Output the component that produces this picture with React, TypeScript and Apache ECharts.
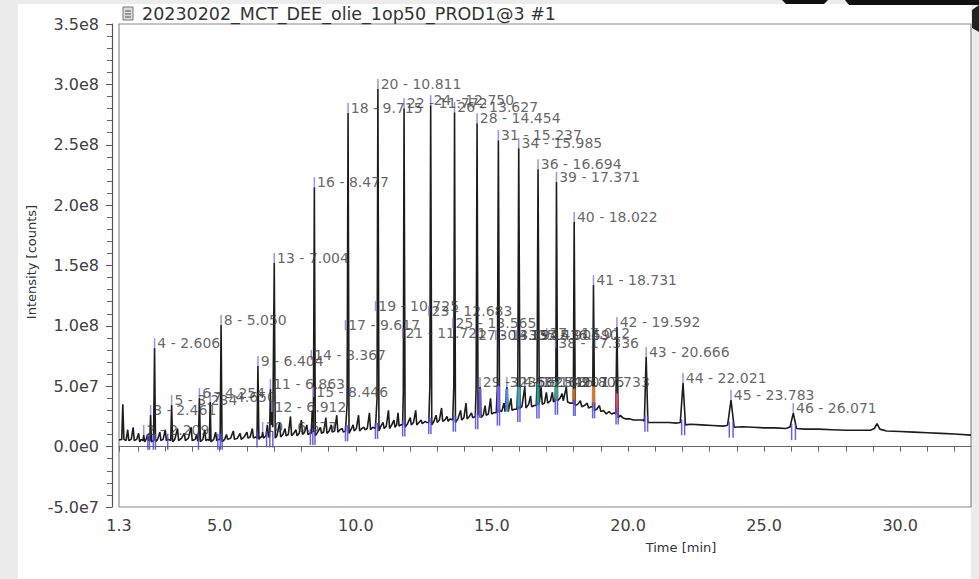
import React, { useEffect, useRef } from "react";
import * as echarts from "echarts";

const titleText = "20230202_MCT_DEE_olie_1op50_PROD1@3 #1";
const xAxisTitle = "Time [min]";
const yAxisTitle = "Intensity [counts]";

// x axis (minutes)
const xMin = 1.3;
const xMax = 32.6;
const xLabelValues = [1.3, 5, 10, 15, 20, 25, 30];
const xTickValues = [1.3, 2, 3, 4, 5, 6, 7, 8, 9, 10, 11, 12, 13, 14, 15, 16, 17, 18, 19, 20, 21, 22, 23, 24, 25, 26, 27, 28, 29, 30, 31, 32];

// y axis (values in millions of counts)
const yTickValues = [-50, 0, 50, 100, 150, 200, 250, 300, 350];
const yTickLabels = ["-5.0e7", "0.0e0", "5.0e7", "1.0e8", "1.5e8", "2.0e8", "2.5e8", "3.0e8", "3.5e8"];

// chromatogram trace: [time (min), intensity (1e6 counts)]
const trace: [number, number][] = [
  [1.30, 5.5], [1.40, 6], [1.44, 35], [1.48, 6], [1.56, 5], [1.62, 14], [1.66, 5], [1.75, 6], [1.82, 16], [1.86, 5], [1.95, 6], [2.02, 11], [2.06, 4], [2.12, 6],
  [2.18, 5], [2.209, 9.6], [2.24, 4], [2.30, 6], [2.35, 10], [2.39, 5],
  [2.43, 5], [2.461, 26.2], [2.49, 4],
  [2.57, 5], [2.606, 81.6], [2.64, 4],
  [2.72, 6], [2.80, 12], [2.84, 5], [2.92, 6], [3.00, 14], [3.04, 5], [3.10, 6],
  [3.20, 5], [3.234, 34.4], [3.27, 4],
  [3.35, 6], [3.45, 15], [3.49, 5], [3.60, 7], [3.70, 11], [3.74, 5], [3.85, 7], [3.95, 16], [3.99, 5], [4.10, 6], [4.15, 10], [4.19, 5],
  [4.22, 5], [4.254, 40.2], [4.29, 4],
  [4.38, 6], [4.45, 14], [4.49, 5], [4.56, 6],
  [4.62, 5], [4.650, 36.9], [4.68, 4],
  [4.78, 6], [4.85, 12], [4.89, 5], [4.96, 6],
  [5.015, 6], [5.050, 100.7], [5.085, 4],
  [5.18, 6], [5.25, 10], [5.29, 6], [5.40, 7], [5.50, 13], [5.54, 6], [5.65, 7], [5.75, 11], [5.79, 6], [5.90, 8], [6.00, 12], [6.04, 7], [6.12, 8], [6.20, 15], [6.24, 7], [6.32, 8],
  [6.37, 7], [6.404, 66.7], [6.44, 6],
  [6.50, 8], [6.55, 8], [6.577, 12.1], [6.61, 7], [6.70, 9], [6.75, 18], [6.79, 8],
  [6.83, 8], [6.863, 47.7], [6.89, 18], [6.912, 28.6], [6.95, 16], [7.004, 152], [7.04, 7],
  [7.10, 9], [7.20, 20], [7.24, 8], [7.32, 10], [7.40, 15], [7.44, 9], [7.52, 10], [7.60, 25], [7.64, 9], [7.72, 11], [7.80, 14], [7.84, 9], [7.92, 11], [8.00, 22], [8.04, 10], [8.12, 12], [8.20, 18], [8.24, 10], [8.30, 11],
  [8.36, 11], [8.40, 30], [8.44, 12], [8.477, 214.9], [8.51, 9],
  [8.60, 12], [8.70, 16], [8.74, 11], [8.82, 12], [8.90, 24], [8.94, 11], [9.02, 13], [9.10, 18], [9.14, 12], [9.22, 13], [9.30, 26], [9.34, 12], [9.42, 14], [9.50, 15], [9.54, 12],
  [9.62, 13], [9.68, 35], [9.715, 276.2], [9.75, 11],
  [9.82, 14], [9.90, 18], [9.94, 13], [10.02, 15], [10.10, 26], [10.14, 13], [10.22, 15], [10.30, 16], [10.34, 14], [10.42, 15], [10.50, 28], [10.54, 14], [10.62, 16],
  [10.72, 15], [10.78, 40], [10.811, 296.1], [10.85, 13],
  [10.92, 17], [11.00, 20], [11.04, 15], [11.12, 17], [11.20, 30], [11.24, 15], [11.32, 18], [11.40, 22], [11.44, 16], [11.50, 18], [11.55, 28], [11.59, 17], [11.65, 18],
  [11.72, 18], [11.745, 45], [11.772, 280.3], [11.81, 16],
  [11.90, 19], [12.00, 24], [12.04, 18], [12.12, 20], [12.20, 30], [12.24, 18], [12.32, 20], [12.40, 22], [12.44, 19], [12.55, 21], [12.60, 20],
  [12.68, 20], [12.72, 50], [12.750, 282.8], [12.79, 18],
  [12.87, 21], [12.95, 26], [12.99, 20], [13.07, 22], [13.15, 32], [13.19, 21], [13.27, 22], [13.35, 25], [13.39, 21], [13.47, 23],
  [13.56, 22], [13.60, 50], [13.627, 277], [13.66, 20],
  [13.75, 23], [13.85, 30], [13.89, 22], [13.97, 24], [14.05, 36], [14.09, 23], [14.17, 25], [14.25, 28], [14.29, 24],
  [14.39, 25], [14.42, 50], [14.454, 267.9], [14.49, 26], [14.562, 49.3], [14.60, 24],
  [14.68, 26], [14.75, 34], [14.79, 26], [14.87, 27], [14.95, 40], [14.99, 27], [15.06, 28],
  [15.16, 28], [15.20, 50], [15.237, 253.8], [15.28, 30],
  [15.36, 29], [15.44, 36], [15.48, 29], [15.549, 49.3], [15.60, 29], [15.70, 40], [15.74, 30], [15.82, 31],
  [15.92, 31], [15.95, 50], [15.985, 247.2], [16.03, 32],
  [16.10, 33], [16.207, 49.3], [16.25, 32], [16.35, 35], [16.42, 42], [16.46, 33], [16.55, 34],
  [16.63, 34], [16.66, 55], [16.694, 229.8], [16.74, 36], [16.805, 49.3], [16.85, 35], [16.93, 36], [17.00, 45], [17.05, 36], [17.15, 38], [17.22, 45], [17.26, 37],
  [17.32, 38], [17.35, 60], [17.371, 219.1], [17.41, 38], [17.50, 40], [17.58, 44], [17.62, 38], [17.733, 49.3], [17.78, 37], [17.88, 36],
  [17.99, 36], [18.022, 186], [18.06, 34], [18.15, 35], [18.25, 38], [18.30, 33], [18.40, 34], [18.50, 36], [18.55, 32], [18.65, 33],
  [18.70, 33], [18.731, 133.8], [18.77, 30], [18.85, 31], [18.95, 34], [19.00, 29], [19.10, 30], [19.20, 27], [19.30, 29], [19.40, 27], [19.50, 28],
  [19.55, 27], [19.592, 99], [19.64, 24], [19.72, 26], [19.80, 24], [19.90, 23], [20.05, 23], [20.20, 22], [20.40, 22], [20.55, 22],
  [20.60, 21], [20.666, 74.2], [20.73, 20], [20.90, 20], [21.20, 20], [21.50, 20], [21.80, 19.5], [21.92, 20],
  [21.93, 20], [22.021, 52.7], [22.11, 18], [22.3, 18.5], [22.7, 18], [23.1, 17.5], [23.5, 17], [23.62, 17.5],
  [23.66, 18], [23.783, 38.6], [23.90, 16], [24.2, 16.5], [24.6, 16], [25.0, 15.5], [25.4, 15.5], [25.8, 15], [25.92, 16],
  [25.95, 16], [26.071, 27.8], [26.19, 15], [26.5, 14.5], [27.0, 14.5], [27.5, 14], [28.0, 13.5], [28.5, 13.5], [28.9, 13.5], [29.05, 15], [29.15, 19], [29.25, 14.5], [29.5, 13], [30.0, 12.5], [30.5, 12], [31.0, 11.5], [31.5, 11], [32.0, 10.5], [32.6, 9.5],
];

// peak annotations
const labelNums = ["2", "3", "4", "5", "6", "7", "8", "9", "10", "11", "12", "13", "14", "15", "16", "17", "18", "19", "20", "21", "22", "23", "24", "25", "26", "27", "28", "29", "30", "31", "32", "33", "34", "35", "35", "36", "37", "37", "38", "39", "38", "40", "41", "42", "43", "44", "45", "46"];
const labelTimes = [2.209, 2.461, 2.606, 3.234, 4.254, 4.650, 5.050, 6.404, 6.577, 6.863, 6.912, 7.004, 8.367, 8.446, 8.477, 9.617, 9.715, 10.725, 10.811, 11.721, 11.772, 12.683, 12.750, 13.565, 13.627, 14.394, 14.454, 14.562, 15.143, 15.237, 15.549, 15.904, 15.985, 16.207, 16.590, 16.694, 16.805, 17.012, 17.336, 17.371, 17.733, 18.022, 18.731, 19.592, 20.666, 22.021, 23.783, 26.071];
const labelHeights = [9.6, 26.2, 81.6, 34.4, 40.2, 36.9, 100.7, 66.7, 12.1, 47.7, 28.6, 152.0, 71.7, 41.1, 214.9, 96.5, 276.2, 112.3, 296.1, 89.9, 280.3, 108.1, 282.8, 98.2, 277.0, 88.3, 267.9, 49.3, 88.3, 253.8, 49.3, 88.3, 247.2, 49.3, 88.3, 229.8, 49.3, 89.9, 81.6, 219.1, 49.3, 186.0, 133.8, 99.0, 74.2, 52.7, 38.6, 27.8];

// integration boundary marks
const markTimes = [2.36, 2.42, 2.56, 2.64, 3.09, 4.22, 4.93, 5.02, 5.09, 6.37, 6.72, 6.84, 6.95, 8.33, 8.42, 8.50, 9.62, 9.70, 10.72, 10.80, 11.72, 11.80, 12.68, 12.76, 13.58, 13.66, 14.40, 14.48, 15.20, 15.28, 15.95, 16.03, 16.65, 16.73, 17.33, 17.41, 18.00, 18.06, 18.70, 18.77, 19.56, 19.64, 20.62, 20.72, 21.97, 22.08, 23.72, 23.86, 26.01, 26.15];
const markValues = [4, 4, 4, 4, 4, 4, 4, 4, 4, 6, 6, 6, 6, 8, 8, 8, 11, 11, 13, 13, 15, 15, 17, 17, 19, 19, 21, 21, 24, 24, 27, 27, 30, 30, 33, 33, 32, 32, 30, 30, 25, 25, 19, 19, 16, 16, 14, 14, 12, 12];

// coloured integrated peak bases
const colorPeakTimes = [14.562, 15.237, 15.549, 15.985, 16.694, 17.371, 18.022, 18.731, 19.592];
const colorPeakBases = [24, 28, 29, 31, 34, 38, 36, 33, 27];
const colorPeakTops = [48, 50, 48, 50, 52, 54, 48, 50, 44];
const colorPeakColors = ["#6b5bd6", "#7b68ee", "#4f8fd0", "#3f9fbf", "#2a9d8f", "#3aa090", "#c8662a", "#d9782f", "#d0506a"];

const FONT = "DejaVu Sans";

export default function App() {
  const ref = useRef<HTMLDivElement>(null);
  useEffect(() => {
    if (!ref.current) return;
    const chart = echarts.init(ref.current, null, { renderer: "svg" });
    const colorSeries = colorPeakTimes.map((t, i) => ({
      type: "line",
      data: [[t, colorPeakBases[i]], [t, colorPeakTops[i]]],
      showSymbol: false,
      symbol: "none",
      lineStyle: { color: colorPeakColors[i], width: 3 },
      z: 3,
      silent: true,
    }));
    chart.setOption({
      animation: false,
      backgroundColor: "#ececec",
      grid: { left: 119, right: 8, top: 24, bottom: 72, show: true, borderColor: "#8a8a8a", borderWidth: 1.2 },
      xAxis: {
        type: "value",
        min: xMin,
        max: xMax,
        offset: 3,
        axisLine: { show: true, lineStyle: { color: "#666", width: 1.2 } },
        axisTick: { show: true, length: 5, customValues: xTickValues, lineStyle: { color: "#666" } },
        axisLabel: {
          customValues: xLabelValues,
          formatter: (v: number) => v.toFixed(1),
          fontFamily: FONT,
          fontSize: 16,
          color: "#404040",
          margin: 7,
        },
        splitLine: { show: false },
      },
      yAxis: {
        type: "value",
        min: -50,
        max: 350,
        interval: 50,
        offset: 7,
        axisLine: { show: true, lineStyle: { color: "#555", width: 1.2 } },
        axisTick: { show: true, length: 6, lineStyle: { color: "#555" } },
        minorTick: { show: true, splitNumber: 5, length: 5, lineStyle: { color: "#666" } },
        axisLabel: {
          formatter: (v: number) => {
            const i = yTickValues.indexOf(Math.round(v));
            return i >= 0 ? yTickLabels[i] : "";
          },
          fontFamily: FONT,
          fontSize: 16,
          color: "#404040",
          margin: 13,
        },
        splitLine: { show: false },
      },
      graphic: [
        { type: "rect", z: -10, shape: { x: 18, y: 4, width: 953, height: 575 }, style: { fill: "#ffffff" } },
        { type: "rect", shape: { x: 123, y: 7, width: 10, height: 13 }, style: { fill: "#dcdcdc", stroke: "#777", lineWidth: 1 } },
        { type: "line", shape: { x1: 125, y1: 11, x2: 131, y2: 11 }, style: { stroke: "#555", lineWidth: 1 } },
        { type: "line", shape: { x1: 125, y1: 14, x2: 131, y2: 14 }, style: { stroke: "#555", lineWidth: 1 } },
        { type: "line", shape: { x1: 125, y1: 17, x2: 131, y2: 17 }, style: { stroke: "#555", lineWidth: 1 } },
        { type: "text", x: 142, y: 14, style: { text: titleText, font: `17.5px "${FONT}"`, fill: "#333", textVerticalAlign: "middle" } },
        { type: "text", x: 681, y: 547, style: { text: xAxisTitle, font: `13px "${FONT}"`, fill: "#333", textAlign: "center", textVerticalAlign: "middle" } },
        { type: "text", x: 31, y: 262, rotation: Math.PI / 2, style: { text: yAxisTitle, font: `13px "${FONT}"`, fill: "#333", textAlign: "center", textVerticalAlign: "middle" } },
        { type: "polygon", shape: { points: [[782, 0], [828, 0], [824, 4], [786, 4]] }, style: { fill: "#111" } },
        { type: "polygon", shape: { points: [[845, 0], [979, 0], [979, 5], [849, 5]] }, style: { fill: "#111" } },
        { type: "polygon", shape: { points: [[972, 10], [979, 5], [979, 32], [972, 28]] }, style: { fill: "#222" } },
      ],
      series: [
        {
          type: "line",
          data: trace,
          showSymbol: false,
          symbol: "none",
          lineStyle: { color: "#1c1c1c", width: 1.6 },
          z: 2,
          silent: true,
        },
        ...colorSeries,
        {
          type: "scatter",
          data: markTimes.map((t, i) => [t, markValues[i]]),
          symbol: "rect",
          symbolSize: [1.5, 16],
          itemStyle: { color: "#5046dc", opacity: 0.85 },
          z: 4,
          silent: true,
        },
        {
          type: "scatter",
          data: labelTimes.map((t, i) => ({ name: `${labelNums[i]} - ${t.toFixed(3)}`, value: [t, labelHeights[i]] })),
          symbol: "rect",
          symbolSize: [1.5, 10],
          symbolOffset: [0, -5],
          itemStyle: { color: "#7a7ae6" },
          label: {
            show: true,
            position: "right",
            distance: 2,
            formatter: "{b}",
            fontFamily: FONT,
            fontSize: 14,
            color: "#3d3d3d",
            offset: [0, -1],
          },
          labelLayout: { hideOverlap: false },
          z: 5,
          silent: true,
        },
      ],
    });
    return () => chart.dispose();
  }, []);
  return <div ref={ref} style={{ position: "absolute", left: 0, top: 0, width: 979, height: 579 }} />;
}
